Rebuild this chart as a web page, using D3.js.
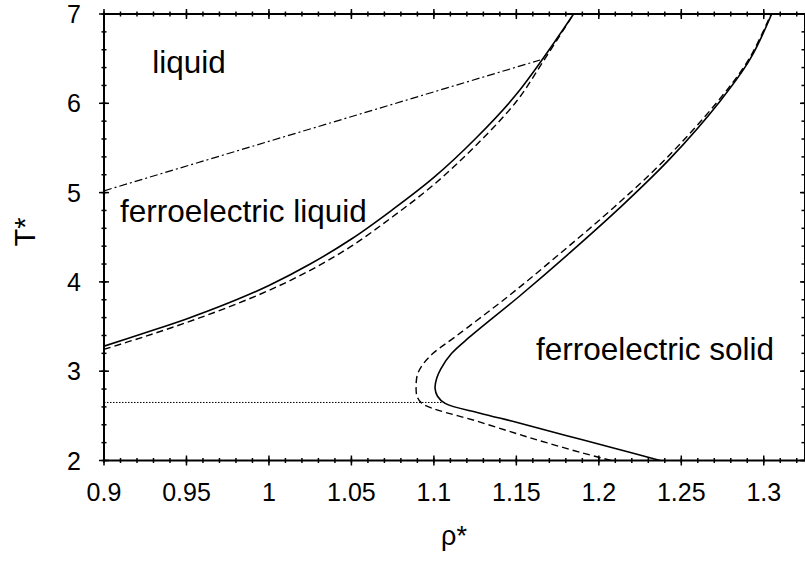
<!DOCTYPE html>
<html><head><meta charset="utf-8">
<script src="https://cdn.jsdelivr.net/npm/d3@7"></script>
<style>body{margin:0;background:#fff}svg{display:block}text{font-family:"Liberation Sans",Arial,sans-serif;fill:#000}</style>
</head><body>
<script>
// ---- data ----
const xMajorTicks = [0.9, 0.95, 1.0, 1.05, 1.1, 1.15, 1.2, 1.25, 1.3];
const xTickLabels = ["0.9","0.95","1","1.05","1.1","1.15","1.2","1.25","1.3"];
const yMajorTicks = [2, 3, 4, 5, 6, 7];
const yTickLabels = ["2","3","4","5","6","7"];

// liquid / ferroelectric-liquid boundary
const leftSolidRho = [0.9, 0.925, 0.95, 0.975, 1.0, 1.025, 1.05, 1.075, 1.1, 1.125, 1.15, 1.1847];
const leftSolidT   = [3.28, 3.43, 3.585, 3.76, 3.96, 4.20, 4.48, 4.81, 5.17, 5.60, 6.10, 7.0];
const leftDashRho  = [0.9, 0.925, 0.95, 0.975, 1.0, 1.025, 1.05, 1.075, 1.1, 1.125, 1.15, 1.167, 1.1847];
const leftDashT    = [3.245, 3.39, 3.545, 3.715, 3.905, 4.13, 4.40, 4.73, 5.09, 5.52, 6.02, 6.49, 7.0];

// ferroelectric-liquid / ferroelectric-solid boundary
const rightSolidRho = [1.2372, 1.21, 1.18, 1.15, 1.128, 1.1068, 1.1022, 1.1007, 1.1017, 1.1043, 1.1108, 1.1219, 1.1522, 1.1825, 1.2128, 1.2432, 1.2735, 1.2917, 1.3048];
const rightSolidT   = [2.0, 2.134, 2.281, 2.428, 2.53, 2.64, 2.72, 2.81, 2.92, 3.03, 3.20, 3.386, 3.845, 4.327, 4.831, 5.38, 6.024, 6.494, 7.0];
const rightDashRho  = [1.2075, 1.19, 1.16, 1.128, 1.0927, 1.0898, 1.0892, 1.0900, 1.0935, 1.0995, 1.1130, 1.1455, 1.1771, 1.2089, 1.2407, 1.2722, 1.2910, 1.3044];
const rightDashT    = [2.0, 2.085, 2.245, 2.43, 2.64, 2.72, 2.81, 2.96, 3.08, 3.20, 3.386, 3.845, 4.327, 4.831, 5.38, 6.024, 6.494, 7.0];

// lines
const dashDotRho = [0.9, 1.1644];
const dashDotT   = [5.02, 6.485];
const dottedRho  = [0.9, 1.1066];
const dottedT    = [2.65, 2.65];

const labels = [
  {text: "liquid", rho: 0.9292, T: 6.34},
  {text: "ferroelectric liquid", rho: 0.9097, T: 4.67},
  {text: "ferroelectric solid", rho: 1.1619, T: 3.12}
];

// ---- drawing ----
const W = 805, H = 565;
const svg = d3.select("body").append("svg").attr("width", W).attr("height", H);
const x = d3.scaleLinear().domain([0.9, 1.325]).range([104, 805]);
const y = d3.scaleLinear().domain([2, 7]).range([460.5, 14]);

const zip = (a, b) => a.map((v, i) => [v, b[i]]);
const line = d3.line().x(d => x(d[0])).y(d => y(d[1])).curve(d3.curveCatmullRom.alpha(0.5));
const straight = d3.line().x(d => x(d[0])).y(d => y(d[1]));

svg.append("clipPath").attr("id", "clip").append("rect")
  .attr("x", 104).attr("y", 14).attr("width", 701).attr("height", 446.5);
const g = svg.append("g").attr("clip-path", "url(#clip)");

g.append("path").attr("d", line(zip(leftSolidRho, leftSolidT)))
  .attr("fill", "none").attr("stroke", "#000").attr("stroke-width", 1.6);
g.append("path").attr("d", line(zip(leftDashRho, leftDashT)))
  .attr("fill", "none").attr("stroke", "#000").attr("stroke-width", 1.4).attr("stroke-dasharray", "7,4");
g.append("path").attr("d", line(zip(rightSolidRho, rightSolidT)))
  .attr("fill", "none").attr("stroke", "#000").attr("stroke-width", 1.6);
g.append("path").attr("d", line(zip(rightDashRho, rightDashT)))
  .attr("fill", "none").attr("stroke", "#000").attr("stroke-width", 1.4).attr("stroke-dasharray", "7,4");
g.append("path").attr("d", straight(zip(dashDotRho, dashDotT)))
  .attr("fill", "none").attr("stroke", "#000").attr("stroke-width", 1.2).attr("stroke-dasharray", "8,3,2,3");
g.append("path").attr("d", straight(zip(dottedRho, dottedT)))
  .attr("fill", "none").attr("stroke", "#000").attr("stroke-width", 1).attr("stroke-dasharray", "1.5,1.5");

// axes frame
const axisG = svg.append("g");
axisG.append("rect").attr("x", 104).attr("y", 14).attr("width", 701).attr("height", 446.5)
  .attr("fill", "none").attr("stroke", "#000").attr("stroke-width", 2);

const xMinor = d3.range(0, 43).map(i => +(0.9 + i * 0.01).toFixed(3));
const yMinor = d3.range(0, 26).map(i => +(2 + i * 0.2).toFixed(2));

function ticksX(vals, yy, len) {
  axisG.selectAll(null).data(vals).enter().append("line")
    .attr("x1", d => x(d)).attr("x2", d => x(d))
    .attr("y1", yy - len).attr("y2", yy + len)
    .attr("stroke", "#000").attr("stroke-width", 1.5);
}
function ticksY(vals, xx, len) {
  axisG.selectAll(null).data(vals).enter().append("line")
    .attr("y1", d => y(d)).attr("y2", d => y(d))
    .attr("x1", xx - len).attr("x2", xx + len)
    .attr("stroke", "#000").attr("stroke-width", 1.5);
}
ticksX(xMinor, 460.5, 2.5); ticksX(xMinor, 14, 2.5);
ticksX(xMajorTicks, 460.5, 5); ticksX(xMajorTicks, 14, 5);
ticksY(yMinor, 104, 2.5); ticksY(yMinor, 805, 3.5);
ticksY(yMajorTicks, 104, 5); ticksY(yMajorTicks, 805, 5);

// tick labels
axisG.selectAll(null).data(xMajorTicks).enter().append("text")
  .attr("x", d => x(d)).attr("y", 501).attr("text-anchor", "middle")
  .attr("font-size", 25).text((d, i) => xTickLabels[i]);
axisG.selectAll(null).data(yMajorTicks).enter().append("text")
  .attr("x", 81).attr("y", d => y(d) + 9).attr("text-anchor", "end")
  .attr("font-size", 25).text((d, i) => yTickLabels[i]);

// axis titles
svg.append("text").attr("x", 454).attr("y", 545).attr("text-anchor", "middle")
  .attr("font-size", 27).text("ρ*");
svg.append("text").attr("transform", "translate(35,232) rotate(-90)").attr("text-anchor", "middle")
  .attr("font-size", 29).text("T*");

// region labels
svg.selectAll(null).data(labels).enter().append("text")
  .attr("x", d => x(d.rho)).attr("y", d => y(d.T))
  .attr("font-size", 31.5).text(d => d.text);
</script>
</body></html>
